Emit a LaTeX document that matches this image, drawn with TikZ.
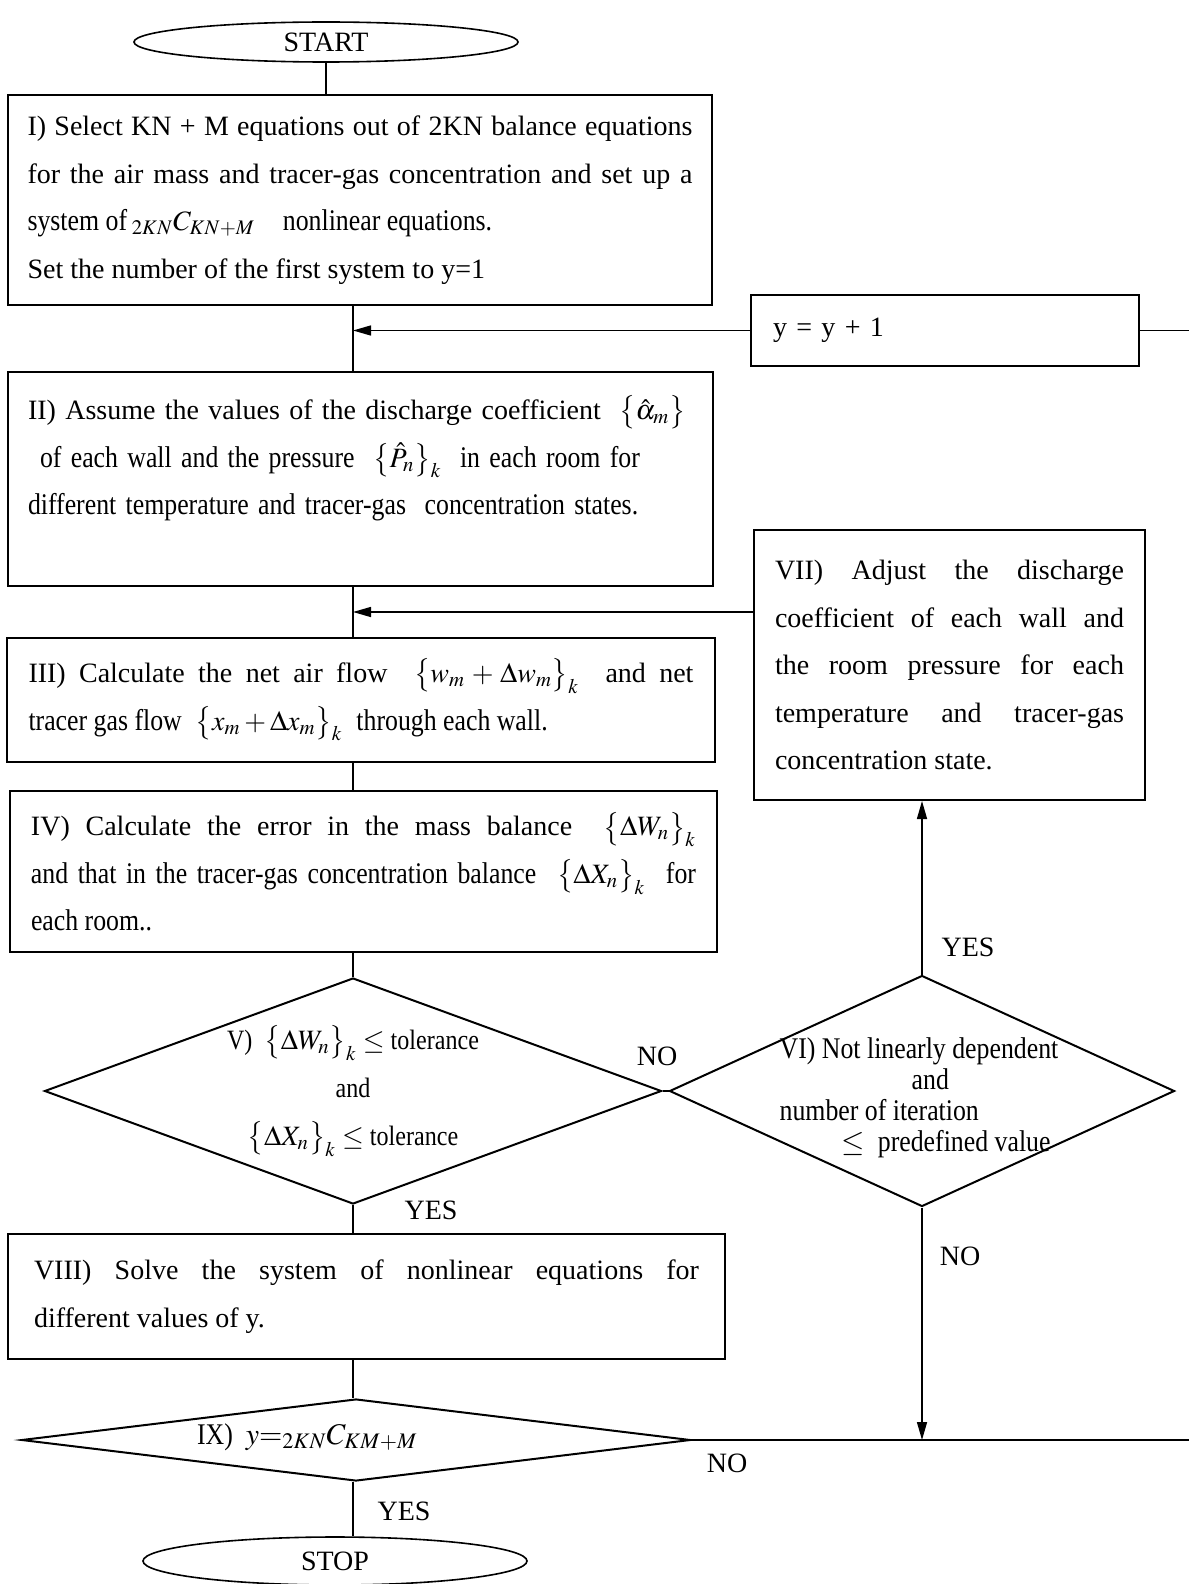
\documentclass[tikz,border=0pt]{standalone}
\usepackage{mathptmx}
\usepackage[no-math]{fontspec}
\setmainfont{Liberation Serif}
\newfontfamily\narrowfont[FakeStretch=0.86]{Liberation Serif}
\newcommand{\narrowtxt}{\narrowfont\fontsize{15}{23.75}\selectfont}
\usetikzlibrary{shapes.geometric,arrows.meta,positioning,calc}

\begin{document}
\begin{tikzpicture}[x=0.5pt,y=-0.5pt,
  term/.style={draw,ellipse,line width=0.8pt,inner sep=0pt,
               minimum width=192pt,font=\fontsize{14}{17}\selectfont},
  proc/.style={draw,line width=1pt,inner sep=0pt,align=justify,
               text width=332.5pt,font=\fontsize{14}{23.75}\selectfont},
  dec/.style={draw,diamond,line width=1pt,inner sep=0pt,align=center,
              font=\narrowfont\fontsize{14}{24}\selectfont},
  dectxt/.style={inner sep=0pt,font=\narrowfont\fontsize{15}{15.5}\selectfont},
  lbl/.style={font=\fontsize{14}{17}\selectfont,inner sep=1pt},
  conn/.style={line width=0.75pt},
  arr/.style={line width=0.75pt,-{Triangle[length=9pt,width=5pt]}}
]
\useasboundingbox (0,0) rectangle (1189,1584);
\coordinate (trunk) at (353,0);
\coordinate (rim)   at (1189,0);

%% -- main column ---------------------------------------------------------
\node[term,minimum height=20pt] (start) at (326,42) {START};

\node[proc,minimum width=352pt,minimum height=105pt] (sel) at (360,200)
  {I) Select KN + M equations out of 2KN balance equations\linebreak
   for the air mass and tracer-gas concentration and set up a\linebreak
   {\narrowtxt system of}\,${}_{2KN}C_{KN+M}$\quad{\narrowtxt nonlinear equations.}\\
   Set the number of the first system to y=1};

\node[proc,align=left,minimum width=352.5pt,minimum height=107pt] (assume) at (360.5,479)
  {II) Assume the values of the discharge coefficient\ \ $\bigl\{\hat{\alpha}_m\bigr\}$\\
   \hspace*{6pt}{\narrowtxt of each wall and the pressure}\ \ $\bigl\{\hat{P}_n\bigr\}_k$\ \ {\narrowtxt in each room for}\\
   {\narrowtxt different temperature and tracer-gas\ \ concentration states.}\\
   \mbox{}};

\node[proc,minimum width=354pt,minimum height=62pt] (flow) at (361,700)
  {III) Calculate the net air flow\ \ $\bigl\{w_m+\Delta w_m\bigr\}_k$\ \ and net\linebreak
   {\narrowtxt tracer gas flow}\ \ $\bigl\{x_m+\Delta x_m\bigr\}_k$\ \ {\narrowtxt through each wall.}};

\node[proc,minimum width=353.5pt,minimum height=80.5pt] (err) at (363.5,871.5)
  {IV) Calculate the error in the mass balance\ \ $\bigl\{\Delta W_n\bigr\}_k$\linebreak
   {\narrowtxt and that in the tracer-gas concentration balance}\ \ $\bigl\{\Delta X_n\bigr\}_k$\ \ {\narrowtxt for}\linebreak
   {\narrowtxt each room..}};

\node[dec,aspect=2.7,minimum width=308.5pt,minimum height=113pt] (tol) at (353,1091)
  {V)\ \ $\bigl\{\Delta W_n\bigr\}_k \le$\ tolerance\\
   and\\
   $\bigl\{\Delta X_n\bigr\}_k \le$\ tolerance};

\node[proc,minimum width=358.5pt,minimum height=62.5pt] (solve) at (366.5,1296.5)
  {VIII) Solve the system of nonlinear equations for\linebreak
   different values of y.};

\node[dec,aspect=8,minimum width=334.5pt,minimum height=41pt] (chk) at (356,1440) {};
\node[font=\narrowfont\fontsize{15}{18}\selectfont,anchor=west] (chktxt) at (190,1437)
  {IX)\ \ $y{=}_{2KN}C_{KM+M}$};

\node[term,minimum height=24pt] (stop) at (335,1561) {STOP};

%% -- right column ----------------------------------------------------------
\node[proc,align=left,text width=172pt,minimum width=194pt,minimum height=35.5pt] (inc) at (945,330.5)
  {y = y + 1};

\node[proc,text width=174.5pt,minimum width=195.5pt,minimum height=135pt] (adj) at (949.5,665)
  {VII) Adjust the discharge\linebreak
   coefficient of each wall and\linebreak
   the room pressure for each\linebreak
   temperature and tracer-gas\linebreak
   concentration state.};

\node[dec,minimum width=252.5pt,minimum height=115.5pt] (dep) at (922,1091) {};
\node[dectxt,align=left] (deptxt) at (919,1098)
  {VI) Not linearly dependent\\
   \hspace*{66pt}and\\
   number of iteration\\
   \hspace*{31pt}$\le$\ \ predefined value};

%% -- connectors --------------------------------------------------------------
\draw[conn] (start.south) -- (start.south |- sel.north);
\draw[conn] (sel.south -| trunk) -- (assume.north -| trunk);
\draw[arr]  (inc.west) -- (inc.west -| trunk);
\draw[conn] (inc.east) -- (inc.east -| rim);
\draw[conn] (assume.south -| trunk) -- (flow.north -| trunk);
\draw[arr]  ([yshift=26.5pt]adj.west) -- ([yshift=26.5pt]adj.west -| trunk);
\draw[conn] (flow.south -| trunk) -- (err.north -| trunk);
\draw[conn] (err.south -| tol.north) -- (tol.north);
\draw[conn] (tol.east) -- (dep.west);
\draw[arr]  (dep.north) -- (dep.north |- adj.south);
\draw[arr]  (dep.south) -- (dep.south |- chk.east);
\draw[conn] (tol.south) -- (tol.south |- solve.north);
\draw[conn] (solve.south -| trunk) -- (trunk |- chk.north);
\draw[conn] (chk.east) -- (chk.east -| rim);
\draw[conn] (trunk |- chk.south) -- (trunk |- stop.north);

%% -- branch labels -------------------------------------------------------
\node[lbl] (no1)  at (657,1056) {NO};
\node[lbl] (yes1) at (431,1210) {YES};
\node[lbl] (yes2) at (968,947)  {YES};
\node[lbl] (no2)  at (960,1256) {NO};
\node[lbl] (no3)  at (727,1463) {NO};
\node[lbl] (yes3) at (404,1511) {YES};
\end{tikzpicture}
\end{document}
